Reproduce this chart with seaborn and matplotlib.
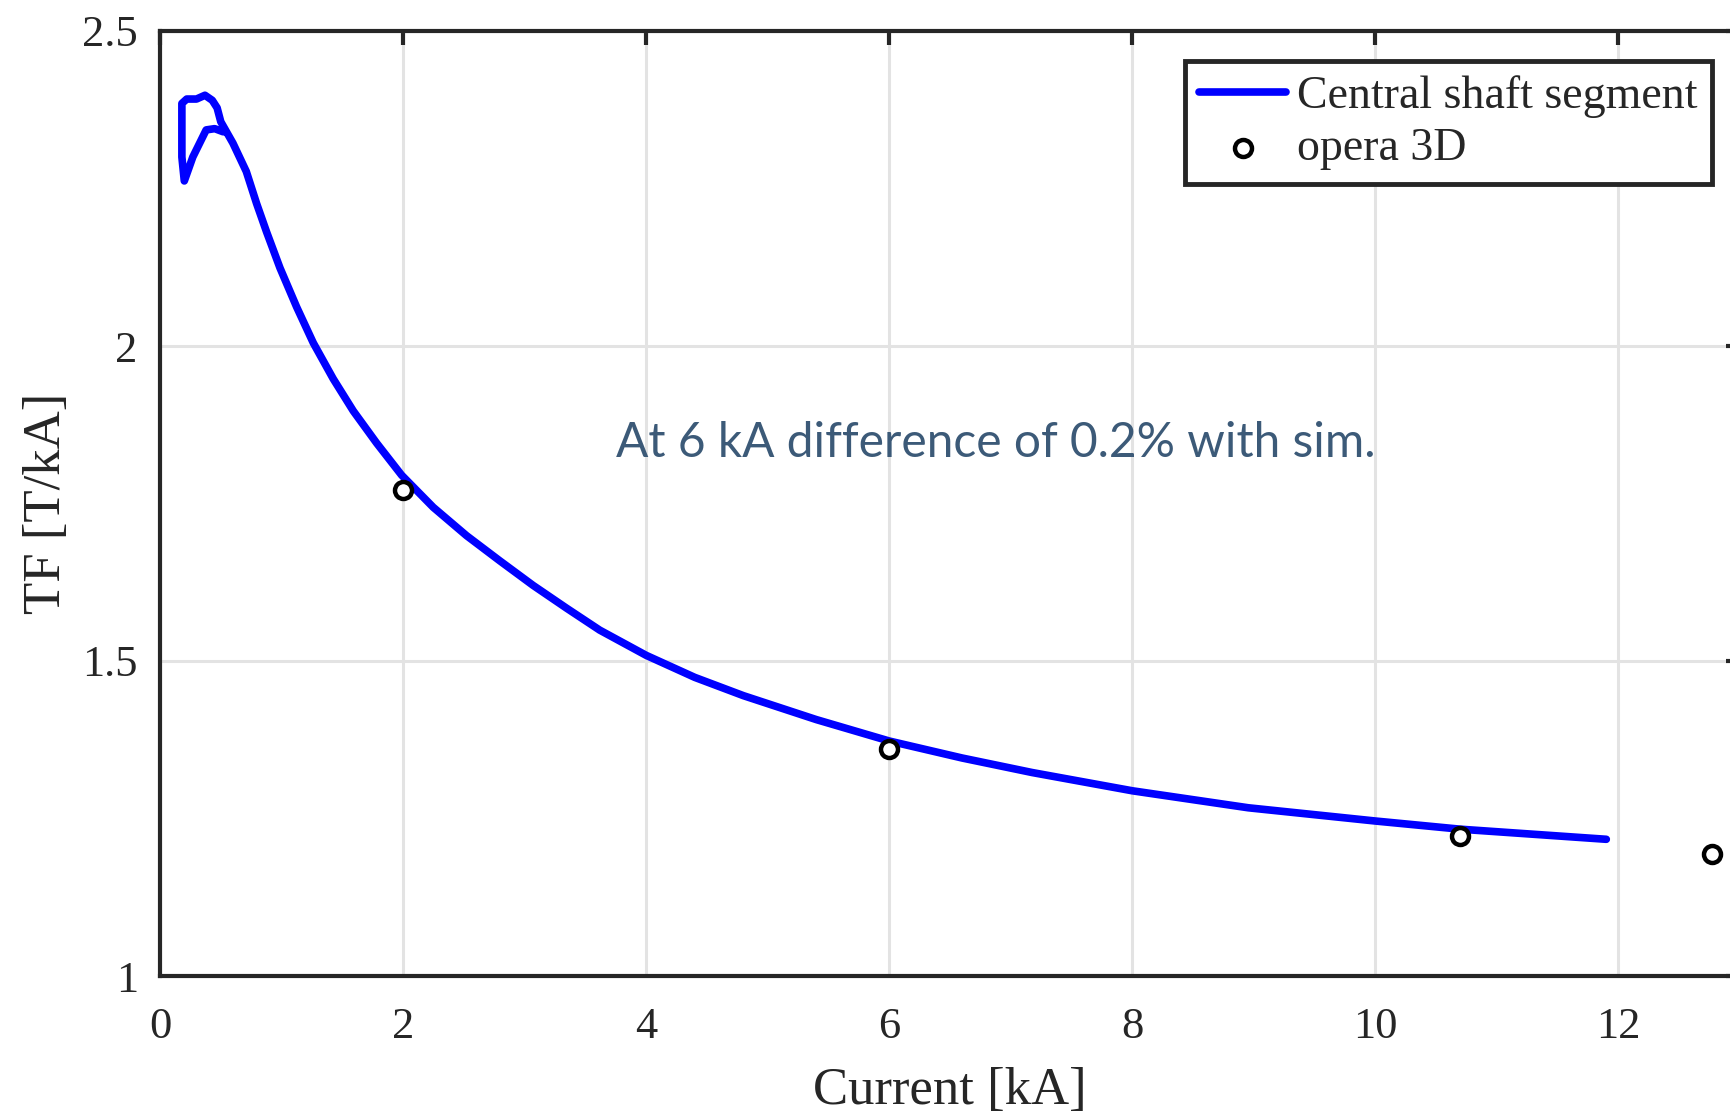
import numpy as np
import pandas as pd
import matplotlib
matplotlib.use('Agg')
import matplotlib.pyplot as plt
import seaborn as sns

# simulated transfer function (central shaft segment), includes the low-current loop
current_sim = [0.52, 0.45, 0.38, 0.27, 0.20, 0.18, 0.18, 0.22, 0.30, 0.37, 0.43, 0.47, 0.50,
               0.60, 0.71, 0.795, 0.877, 0.987, 1.124, 1.261, 1.425, 1.59, 1.782, 1.988,
               2.248, 2.522, 2.796, 3.07, 3.344, 3.618, 4.0, 4.4, 4.8, 5.4, 6.0, 6.6,
               7.175, 8.0, 8.955, 10.0, 10.7, 11.3, 11.9]
tf_sim = [2.340, 2.345, 2.343, 2.300, 2.262, 2.300, 2.385, 2.392, 2.392, 2.398, 2.390, 2.378, 2.356,
          2.322, 2.277, 2.226, 2.181, 2.124, 2.062, 2.005, 1.948, 1.897, 1.846, 1.795,
          1.744, 1.699, 1.659, 1.620, 1.584, 1.549, 1.509, 1.474, 1.445, 1.407, 1.373, 1.346,
          1.323, 1.294, 1.267, 1.246, 1.233, 1.225, 1.217]

# opera 3D points
current_opera = [2.0, 6.0, 10.7, 12.77]
tf_opera = [1.771, 1.361, 1.223, 1.193]

df_sim = pd.DataFrame({'current': current_sim, 'tf': tf_sim})
df_opera = pd.DataFrame({'current': current_opera, 'tf': tf_opera})

sns.set_style('white')
plt.rcParams['font.family'] = ['Liberation Serif', 'DejaVu Serif']

fig = plt.figure(figsize=(17.3, 11.16), dpi=100)
ax = fig.add_axes([160 / 1730, 1 - 976 / 1116, 1580 / 1730, 945 / 1116])

sns.lineplot(data=df_sim, x='current', y='tf', sort=False, estimator=None,
             color='#0000ff', linewidth=5.5, ax=ax, label='Central shaft segment')
sns.scatterplot(data=df_opera, x='current', y='tf', marker='o', s=150,
                facecolor='white', edgecolor='black', linewidth=3.2, ax=ax,
                label='opera 3D', zorder=5, clip_on=False)

ax.set_xlim(0, 13)
ax.set_ylim(1, 2.5)
ax.set_xticks([0, 2, 4, 6, 8, 10, 12])
ax.set_yticks([1, 1.5, 2, 2.5])
ax.set_yticklabels(['1', '1.5', '2', '2.5'])
ax.grid(True, color='#e3e3e3', linewidth=2.2)
ax.set_axisbelow(True)

for s in ax.spines.values():
    s.set_color('#262626')
    s.set_linewidth(3)
ax.tick_params(direction='in', length=10, width=3, color='#262626',
               top=True, right=True, labelsize=32, labelcolor='#262626')
ax.tick_params(axis='x', pad=22)
ax.tick_params(axis='y', pad=16)

ax.set_xlabel('Current [kA]', fontsize=38, color='#262626', labelpad=15)
ax.set_ylabel('TF [T/kA]', fontsize=38, color='#262626', labelpad=8)

ax.text(6.875, 1.846, 'At 6 kA difference of 0.2% with sim.', fontsize=34.5,
        family=['Lato', 'DejaVu Sans'], color='#3c5a78', ha='center', va='center')

leg = ax.legend(loc='upper right', bbox_to_anchor=(0.982, 0.968), borderaxespad=0,
                fontsize=33, fancybox=False, framealpha=1, handlelength=1.9,
                handletextpad=0.24, labelspacing=0.22, borderpad=0.3)
leg.get_frame().set_edgecolor('#262626')
leg.get_frame().set_linewidth(3.5)
for t in leg.get_texts():
    t.set_color('#262626')

fig.savefig('out.png', dpi=100)
